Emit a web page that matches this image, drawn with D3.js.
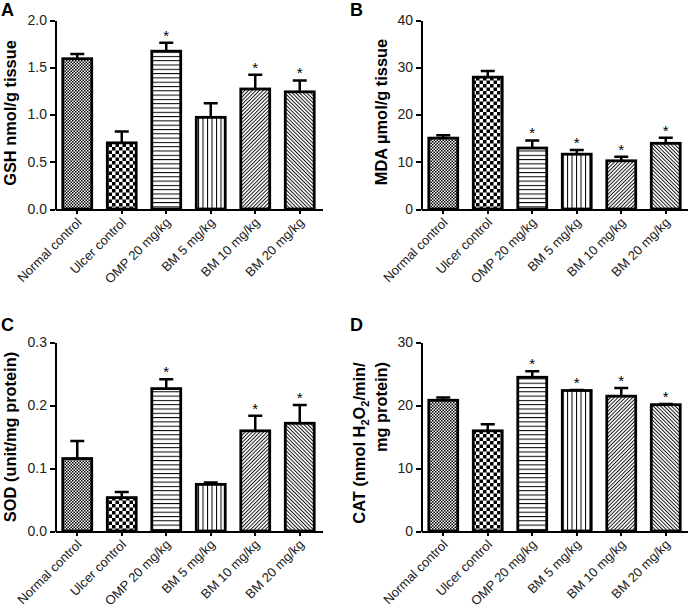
<!DOCTYPE html>
<html lang="en">
<head>
<meta charset="UTF-8">
<title>Gastric tissue markers</title>
<script src="https://d3js.org/d3.v7.min.js"></script>
<style>
    body { margin: 0; background: #fff; }
    svg { font-family: "Liberation Sans", Arial, sans-serif; }
    .axis path, .axis line { stroke: #000; stroke-width: 2; shape-rendering: crispEdges; }
    .axis text { font-size: 14px; fill: #222; }
    .title { font-weight: bold; font-size: 16.4px; }
    .letter { font-weight: bold; font-size: 18px; }
</style>
</head>
<body>
<svg id="chart" width="688" height="610"></svg>
<script>
// groups on the x axis
const groups = ["Normal control", "Ulcer control", "OMP 20 mg/kg", "BM 5 mg/kg", "BM 10 mg/kg", "BM 20 mg/kg"];

// A: GSH
const gshMean = [1.59, 0.70, 1.67, 0.97, 1.27, 1.24];
const gshErr = [0.05, 0.12, 0.09, 0.15, 0.15, 0.12];
const gshStar = [false, false, true, false, true, true];
const gshTicks = [0, 0.5, 1.0, 1.5, 2.0];

// B: MDA
const mdaMean = [15.0, 27.9, 12.9, 11.6, 10.2, 13.9];
const mdaErr = [0.6, 1.3, 1.6, 0.9, 0.85, 1.2];
const mdaStar = [false, false, true, true, true, true];
const mdaTicks = [0, 10, 20, 30, 40];

// C: SOD
const sodMean = [0.115, 0.053, 0.226, 0.074, 0.159, 0.171];
const sodErr = [0.028, 0.009, 0.015, 0.003, 0.024, 0.029];
const sodStar = [false, false, true, false, true, true];
const sodTicks = [0, 0.1, 0.2, 0.3];

// D: CAT
const catMean = [20.75, 15.9, 24.4, 22.3, 21.4, 20.05];
const catErr = [0.45, 1.05, 0.95, 0.1, 1.3, 0.1];
const catStar = [false, false, true, true, true, true];
const catTicks = [0, 10, 20, 30];

const svg = d3.select("#chart");
const defs = svg.append("defs");

// fill patterns, one per group
function pat(id, size) {
    return defs.append("pattern").attr("id", id).attr("patternUnits", "userSpaceOnUse")
        .attr("width", size).attr("height", size);
}
let p = pat("p0", 3);
p.append("rect").attr("width", 3).attr("height", 3).attr("fill", "#fff");
p.append("rect").attr("width", 1.5).attr("height", 1.5).attr("fill", "#000");
p.append("rect").attr("x", 1.5).attr("y", 1.5).attr("width", 1.5).attr("height", 1.5).attr("fill", "#000");

p = pat("p1", 7);
p.append("rect").attr("width", 7).attr("height", 7).attr("fill", "#fff");
p.append("rect").attr("width", 3.5).attr("height", 3.5).attr("fill", "#000");
p.append("rect").attr("x", 3.5).attr("y", 3.5).attr("width", 3.5).attr("height", 3.5).attr("fill", "#000");

p = pat("p2", 4.3);
p.append("rect").attr("width", 4.3).attr("height", 4.3).attr("fill", "#fff");
p.append("line").attr("x1", 0).attr("x2", 4.3).attr("y1", 0.5).attr("y2", 0.5).attr("stroke", "#000").attr("stroke-width", 1);

p = pat("p3", 4.5);
p.append("rect").attr("width", 4.5).attr("height", 4.5).attr("fill", "#fff");
p.append("line").attr("y1", 0).attr("y2", 4.5).attr("x1", 0.5).attr("x2", 0.5).attr("stroke", "#000").attr("stroke-width", 1);

p = pat("p4", 2.6).attr("patternTransform", "rotate(45)");
p.append("rect").attr("width", 2.6).attr("height", 2.6).attr("fill", "#fff");
p.append("line").attr("y1", 0).attr("y2", 2.6).attr("x1", 0.5).attr("x2", 0.5).attr("stroke", "#000").attr("stroke-width", 0.9);

p = pat("p5", 2.6).attr("patternTransform", "rotate(-45)");
p.append("rect").attr("width", 2.6).attr("height", 2.6).attr("fill", "#fff");
p.append("line").attr("y1", 0).attr("y2", 2.6).attr("x1", 0.5).attr("x2", 0.5).attr("stroke", "#000").attr("stroke-width", 0.9);

function drawPanel(cfg) {
    const x = d3.scaleBand().domain(groups).range([cfg.left, cfg.left + 267])
        .paddingInner(0.35).paddingOuter(0.175);
    const y = d3.scaleLinear().domain([0, d3.max(cfg.ticks)]).range([cfg.bottom, cfg.top]);
    const g = svg.append("g");
    const data = groups.map((k, i) => ({ k, i, v: cfg.mean[i], e: cfg.err[i], s: cfg.star[i] }));

    // error bars (drawn first so the bar outline covers the foot)
    g.selectAll(".err").data(data).enter().append("path")
        .attr("d", d => {
            const cx = x(d.k) + x.bandwidth() / 2;
            return `M${cx},${y(d.v)}V${y(d.v + d.e)}M${cx - 7},${y(d.v + d.e)}H${cx + 7}`;
        })
        .attr("stroke", "#000").attr("stroke-width", 2.5).attr("fill", "none");

    g.selectAll(".bar").data(data).enter().append("rect")
        .attr("x", d => x(d.k)).attr("width", x.bandwidth())
        .attr("y", d => y(d.v)).attr("height", d => y(0) - y(d.v))
        .attr("fill", d => `url(#p${d.i})`).attr("stroke", "#000").attr("stroke-width", 2.8);

    g.selectAll(".star").data(data.filter(d => d.s)).enter().append("text")
        .attr("x", d => x(d.k) + x.bandwidth() / 2).attr("y", d => y(d.v + d.e) - 2)
        .attr("text-anchor", "middle").attr("font-size", 15).text("*");

    g.append("g").attr("class", "axis").attr("transform", `translate(${cfg.left},0)`)
        .call(d3.axisLeft(y).tickValues(cfg.ticks).tickFormat(d3.format(cfg.fmt)).tickSize(5).tickSizeOuter(0));

    const xa = g.append("g").attr("class", "axis").attr("transform", `translate(0,${cfg.bottom})`)
        .call(d3.axisBottom(x).tickSize(5).tickSizeOuter(0));
    xa.selectAll("text").attr("x", 0).attr("y", 0).attr("dy", "0.35em")
        .attr("transform", "translate(2,11) rotate(-45)")
        .style("text-anchor", "end").style("font-size", "13px");

    svg.append("text").attr("class", "letter").attr("x", cfg.letterX).attr("y", cfg.letterY).text(cfg.letter);

    if (cfg.title) {
        svg.append("text").attr("class", "title")
            .attr("transform", `translate(${cfg.titleX},${cfg.titleY}) rotate(-90)`)
            .attr("text-anchor", "middle").text(cfg.title);
    }
}

drawPanel({ left: 55, top: 20, bottom: 209, mean: gshMean, err: gshErr, star: gshStar, ticks: gshTicks, fmt: ".1f",
    letter: "A", letterX: 1, letterY: 16, title: "GSH nmol/g tissue", titleX: 16, titleY: 113 });
drawPanel({ left: 421, top: 20, bottom: 209, mean: mdaMean, err: mdaErr, star: mdaStar, ticks: mdaTicks, fmt: "d",
    letter: "B", letterX: 350, letterY: 16, title: "MDA \u00b5mol/g tissue", titleX: 387, titleY: 112 });
drawPanel({ left: 55, top: 342, bottom: 531, mean: sodMean, err: sodErr, star: sodStar, ticks: sodTicks, fmt: ".1f",
    letter: "C", letterX: 1, letterY: 331, title: "SOD (unit/mg protein)", titleX: 16, titleY: 437 });
drawPanel({ left: 421, top: 342, bottom: 531, mean: catMean, err: catErr, star: catStar, ticks: catTicks, fmt: "d",
    letter: "D", letterX: 350, letterY: 331, title: "" });

// two-line title for panel D with subscripts
const dt = svg.append("text").attr("class", "title")
    .attr("transform", "translate(365,443) rotate(-90)").attr("text-anchor", "middle");
dt.append("tspan").text("CAT (nmol H");
dt.append("tspan").attr("dy", 4).attr("font-size", 11).text("2");
dt.append("tspan").attr("dy", -4).text("O");
dt.append("tspan").attr("dy", 4).attr("font-size", 11).text("2");
dt.append("tspan").attr("dy", -4).text("/min/");
svg.append("text").attr("class", "title")
    .attr("transform", "translate(387,407) rotate(-90)").attr("text-anchor", "middle")
    .text("mg protein)");
</script>
</body>
</html>
